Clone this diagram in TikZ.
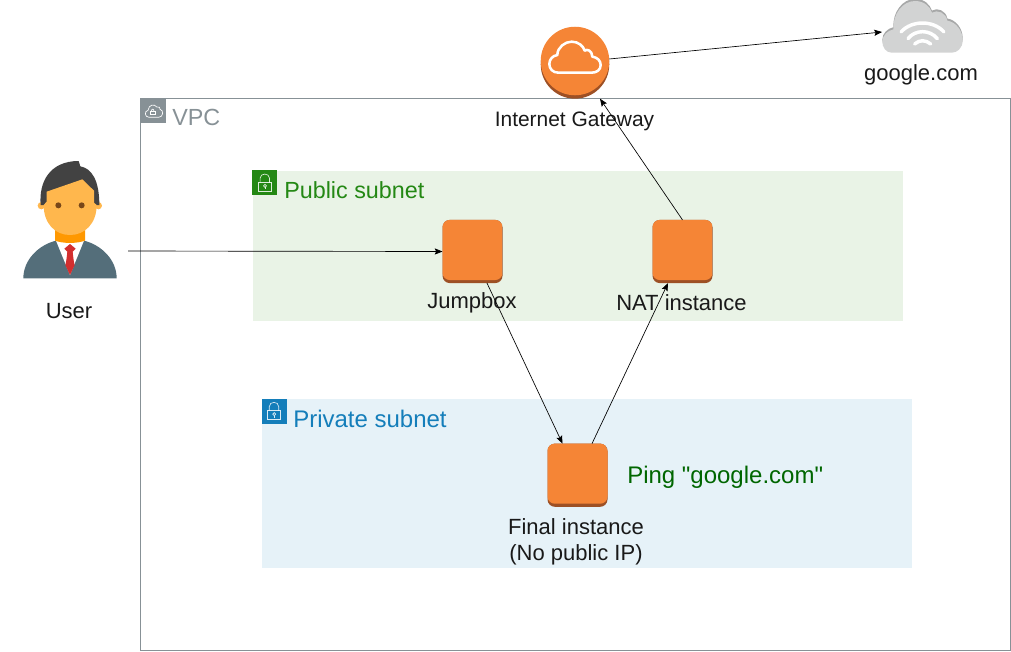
\documentclass[tikz,border=0pt]{standalone}
\usepackage{fontspec}
\setmainfont{Liberation Sans}
\newfontfamily\straightfont{Liberation Sans}
\usetikzlibrary{arrows.meta,calc}
\definecolor{vpcgray}{HTML}{879196}
\definecolor{pubgreen}{HTML}{248814}
\definecolor{pubbg}{HTML}{E9F3E6}
\definecolor{privblue}{HTML}{147EBA}
\definecolor{privbg}{HTML}{E6F2F8}
\definecolor{awsorange}{HTML}{F58536}
\definecolor{awsdark}{HTML}{9D5025}
\definecolor{pinggreen}{HTML}{006600}
\definecolor{cloudgray}{HTML}{D2D3D3}
\definecolor{clouddark}{HTML}{A7A8A8}
\definecolor{suit}{HTML}{546E7A}
\definecolor{skin}{HTML}{FFB74D}
\definecolor{neckc}{HTML}{FF9800}
\definecolor{hairc}{HTML}{424242}
\definecolor{tiec}{HTML}{D32F2F}
\definecolor{eyec}{HTML}{784719}
\tikzset{
  flow/.style={draw=black,line width=.5pt,-{Stealth[length=5.8pt,width=4.6pt,inset=1pt]}},
  instance/.style={rectangle,rounded corners=5.5pt,fill=awsdark,minimum width=45pt,minimum height=47.4pt,inner sep=0pt,outer sep=0pt,
    path picture={\fill[awsorange,rounded corners=5.5pt] (path picture bounding box.north west) rectangle ([yshift=2.3pt]path picture bounding box.south east);}},
  lbl/.style={inner sep=0pt,font=\fontsize{16.5}{19.5}\selectfont,text=black!90,align=center},
  grouplbl/.style={inner sep=0pt,anchor=west,font=\fontsize{17.5}{21}\selectfont},
  iconsq/.style={rectangle,minimum size=18.75pt,inner sep=0pt,outer sep=0pt,anchor=north west},
  groupbox/.style={rectangle,inner sep=0pt,outer sep=0pt,anchor=north west},
  lockpic/.pic={
    \draw[white,line width=.5pt,opacity=.85] (6,12.3) rectangle (19,21.3);
    \draw[white,line width=.5pt,opacity=.85] (7.8,12.3) -- (7.8,8) .. controls (7.8,2.5) and (17.2,2.5) .. (17.2,8) -- (17.2,12.3);
    \draw[white,line width=.5pt,opacity=.85] (12.7,15.6) circle[radius=1.5];
    \draw[white,line width=.5pt,opacity=.85] (12.7,17.1) -- (12.7,19.2);
  }
}
\begin{document}
\begin{tikzpicture}[x=.75pt,y=-.75pt]
\useasboundingbox (0,0) rectangle (1011,651);
% groups
\node[groupbox,draw=vpcgray,line width=.6pt,minimum width=652.2pt,minimum height=414pt] (vpc) at (140.5,98.5) {};
\node[groupbox,fill=pubbg,minimum width=487.5pt,minimum height=112.5pt] (pub) at (252.5,170.5) {};
\node[groupbox,fill=privbg,minimum width=487.5pt,minimum height=127pt] (priv) at (261.5,399) {};
% group icons
\node[iconsq,fill=vpcgray] (vpcicon) at (140.7,98.3) {};
\begin{scope}[shift={(140.7,98.3)},x=.25pt,y=-.25pt]
\draw[white,line width=.5pt] (25,57) .. controls (12,57) and (10,38) .. (22,36) .. controls (24,18) and (42,16) .. (48,26) .. controls (54,24) and (60,28) .. (58,33) .. controls (70,35) and (68,57) .. (54,57) -- cycle;
\draw[white,line width=.5pt] (29,40) rectangle (43,49);
\draw[white,line width=.5pt] (32,40) .. controls (32,30) and (40,30) .. (40,40);
\end{scope}
\node[iconsq,fill=pubgreen] (pubicon) at (252.3,170.2) {};
\pic at (252.3,170.2) {lockpic};
\node[iconsq,fill=privblue] (privicon) at (261.5,398.5) {};
\pic at (261.5,398.5) {lockpic};
\node[grouplbl,text=vpcgray] (vpctxt) at (172,117.5) {VPC};
\node[grouplbl,text=pubgreen] (pubtxt) at (284,190) {Public subnet};
\node[grouplbl,text=privblue,font=\fontsize{18}{21}\selectfont] (privtxt) at (293,419) {Private subnet};
% instances
\node[instance] (jump) at (472.5,251.5) {};
\node[instance] (nat) at (682.5,251.5) {};
\node[instance] (final) at (577.5,475.2) {};
% internet gateway
\node[circle,fill=awsdark,minimum size=51.4pt,inner sep=0pt,outer sep=0pt] (igwd) at (575,64.4) {};
\node[circle,fill=awsorange,minimum size=51.4pt,inner sep=0pt,outer sep=0pt] (igw) at (575,61) {};
\begin{scope}[shift={(490,0)},x=.25pt,y=-.25pt]
\draw[white,line width=1.9pt,line join=round] (205,218) .. controls (188,218) and (178,206) .. (178,192) .. controls (178,178) and (188,167) .. (202,165) .. controls (202,142) and (225,125) .. (245,125) .. controls (265,125) and (280,138) .. (284,152) .. controls (292,146) and (306,152) .. (307,170) .. controls (322,172) and (332,182) .. (332,195) .. controls (332,210) and (320,218) .. (305,218) -- cycle;
\end{scope}
% google cloud
\node[inner sep=0pt,outer sep=0pt,minimum width=60pt,minimum height=40pt] (google) at (922,28) {};
\begin{scope}[shift={(870,0)},x=.25pt,y=-.25pt]
\def\cloudpath{(65,158) .. controls (48,158) and (37,142) .. (37,125) .. controls (37,107) and (52,92) .. (70,88) .. controls (68,42) and (98,3) .. (135,3) .. controls (163,3) and (180,20) .. (186,38) .. controls (202,28) and (228,38) .. (232,62) .. controls (258,66) and (278,92) .. (278,120) .. controls (278,145) and (262,158) .. (245,158) -- cycle}
\fill[clouddark] [yshift=1.6pt] \cloudpath;
\fill[cloudgray] \cloudpath;
\draw[white,line width=2.6pt,line cap=round] (93,96) .. controls (125,60) and (190,60) .. (222,96);
\draw[white,line width=2.6pt,line cap=round] (114,116) .. controls (135,88) and (180,88) .. (202,116);
\draw[white,line width=2.6pt,line cap=round] (134,132) .. controls (148,119) and (167,119) .. (182,132);
\end{scope}
% user
\node[inner sep=0pt,outer sep=0pt,minimum width=70.5pt,minimum height=88pt] (usericon) at (70,219.5) {};
\begin{scope}[shift={(0,90)},x=.25pt,y=-.25pt]
\fill[suit] (70,565) .. controls (70,510) and (115,465) .. (168,452) -- (252,452) .. controls (305,465) and (350,510) .. (350,565) -- cycle;
\fill[white] (168,452) -- (252,452) -- (210,555) -- cycle;
\fill[neckc] (165,420) -- (165,452) .. controls (190,461) and (230,461) .. (255,452) -- (255,420) -- cycle;
\fill[tiec] (210,462) -- (227,476) -- (218,485) .. controls (220,505) and (222,520) .. (224,525) -- (210,555) -- (196,525) .. controls (198,520) and (200,505) .. (202,485) -- (193,476) -- cycle;
\fill[skin] (124,347) circle[radius=11];
\fill[skin] (295,347) circle[radius=11];
\fill[hairc] (122,345) .. controls (116,275) and (150,213) .. (236,213) -- (241,229) .. controls (275,235) and (298,270) .. (298,345) -- cycle;
\fill[skin] (140,305) -- (140,335) -- (131,345) .. controls (131,400) and (165,435) .. (210,435) .. controls (255,435) and (290,400) .. (290,345) -- (282,338) -- (282,302) -- (247,268) -- cycle;
\fill[eyec] (175,346) circle[radius=9];
\fill[eyec] (245,346) circle[radius=9];
\end{scope}
% labels
\node[lbl] (usertxt) at (69,311) {User};
\node[lbl] (googletxt) at (921,75) {google.com};
\node[lbl,font=\fontsize{15.7}{19.5}\selectfont] (igwtxt) at (574.5,121) {Internet Gateway};
\node[lbl] (jumptxt) at (472,303) {Jumpbox};
\node[lbl] (nattxt) at (681.5,302.5) {NAT instance};
\node[lbl] (finaltxt) at (576,541.5) {Final instance\\(No public IP)};
\node[grouplbl,text=pinggreen,font=\straightfont\fontsize{18}{21}\selectfont] (pingtxt) at (627,477) {Ping "google.com"};
% connectors
\draw[flow] ($(usericon.east)+(11,31.5)$) -- (jump.west);
\draw[flow] ($(jump.south)+(14.5,0)$) -- ($(final.north)+(-15,0)$);
\draw[flow] ($(final.north)+(14.5,0)$) -- ($(nat.south)+(-14.5,0)$);
\draw[flow] ($(nat.north)+(0,0)$) -- ($(igwd.south)+(25,0)$);
\draw[flow] ($(igw.east)+(0,-2)$) -- ($(google.west)+(0,4)$);
\end{tikzpicture}
\end{document}
